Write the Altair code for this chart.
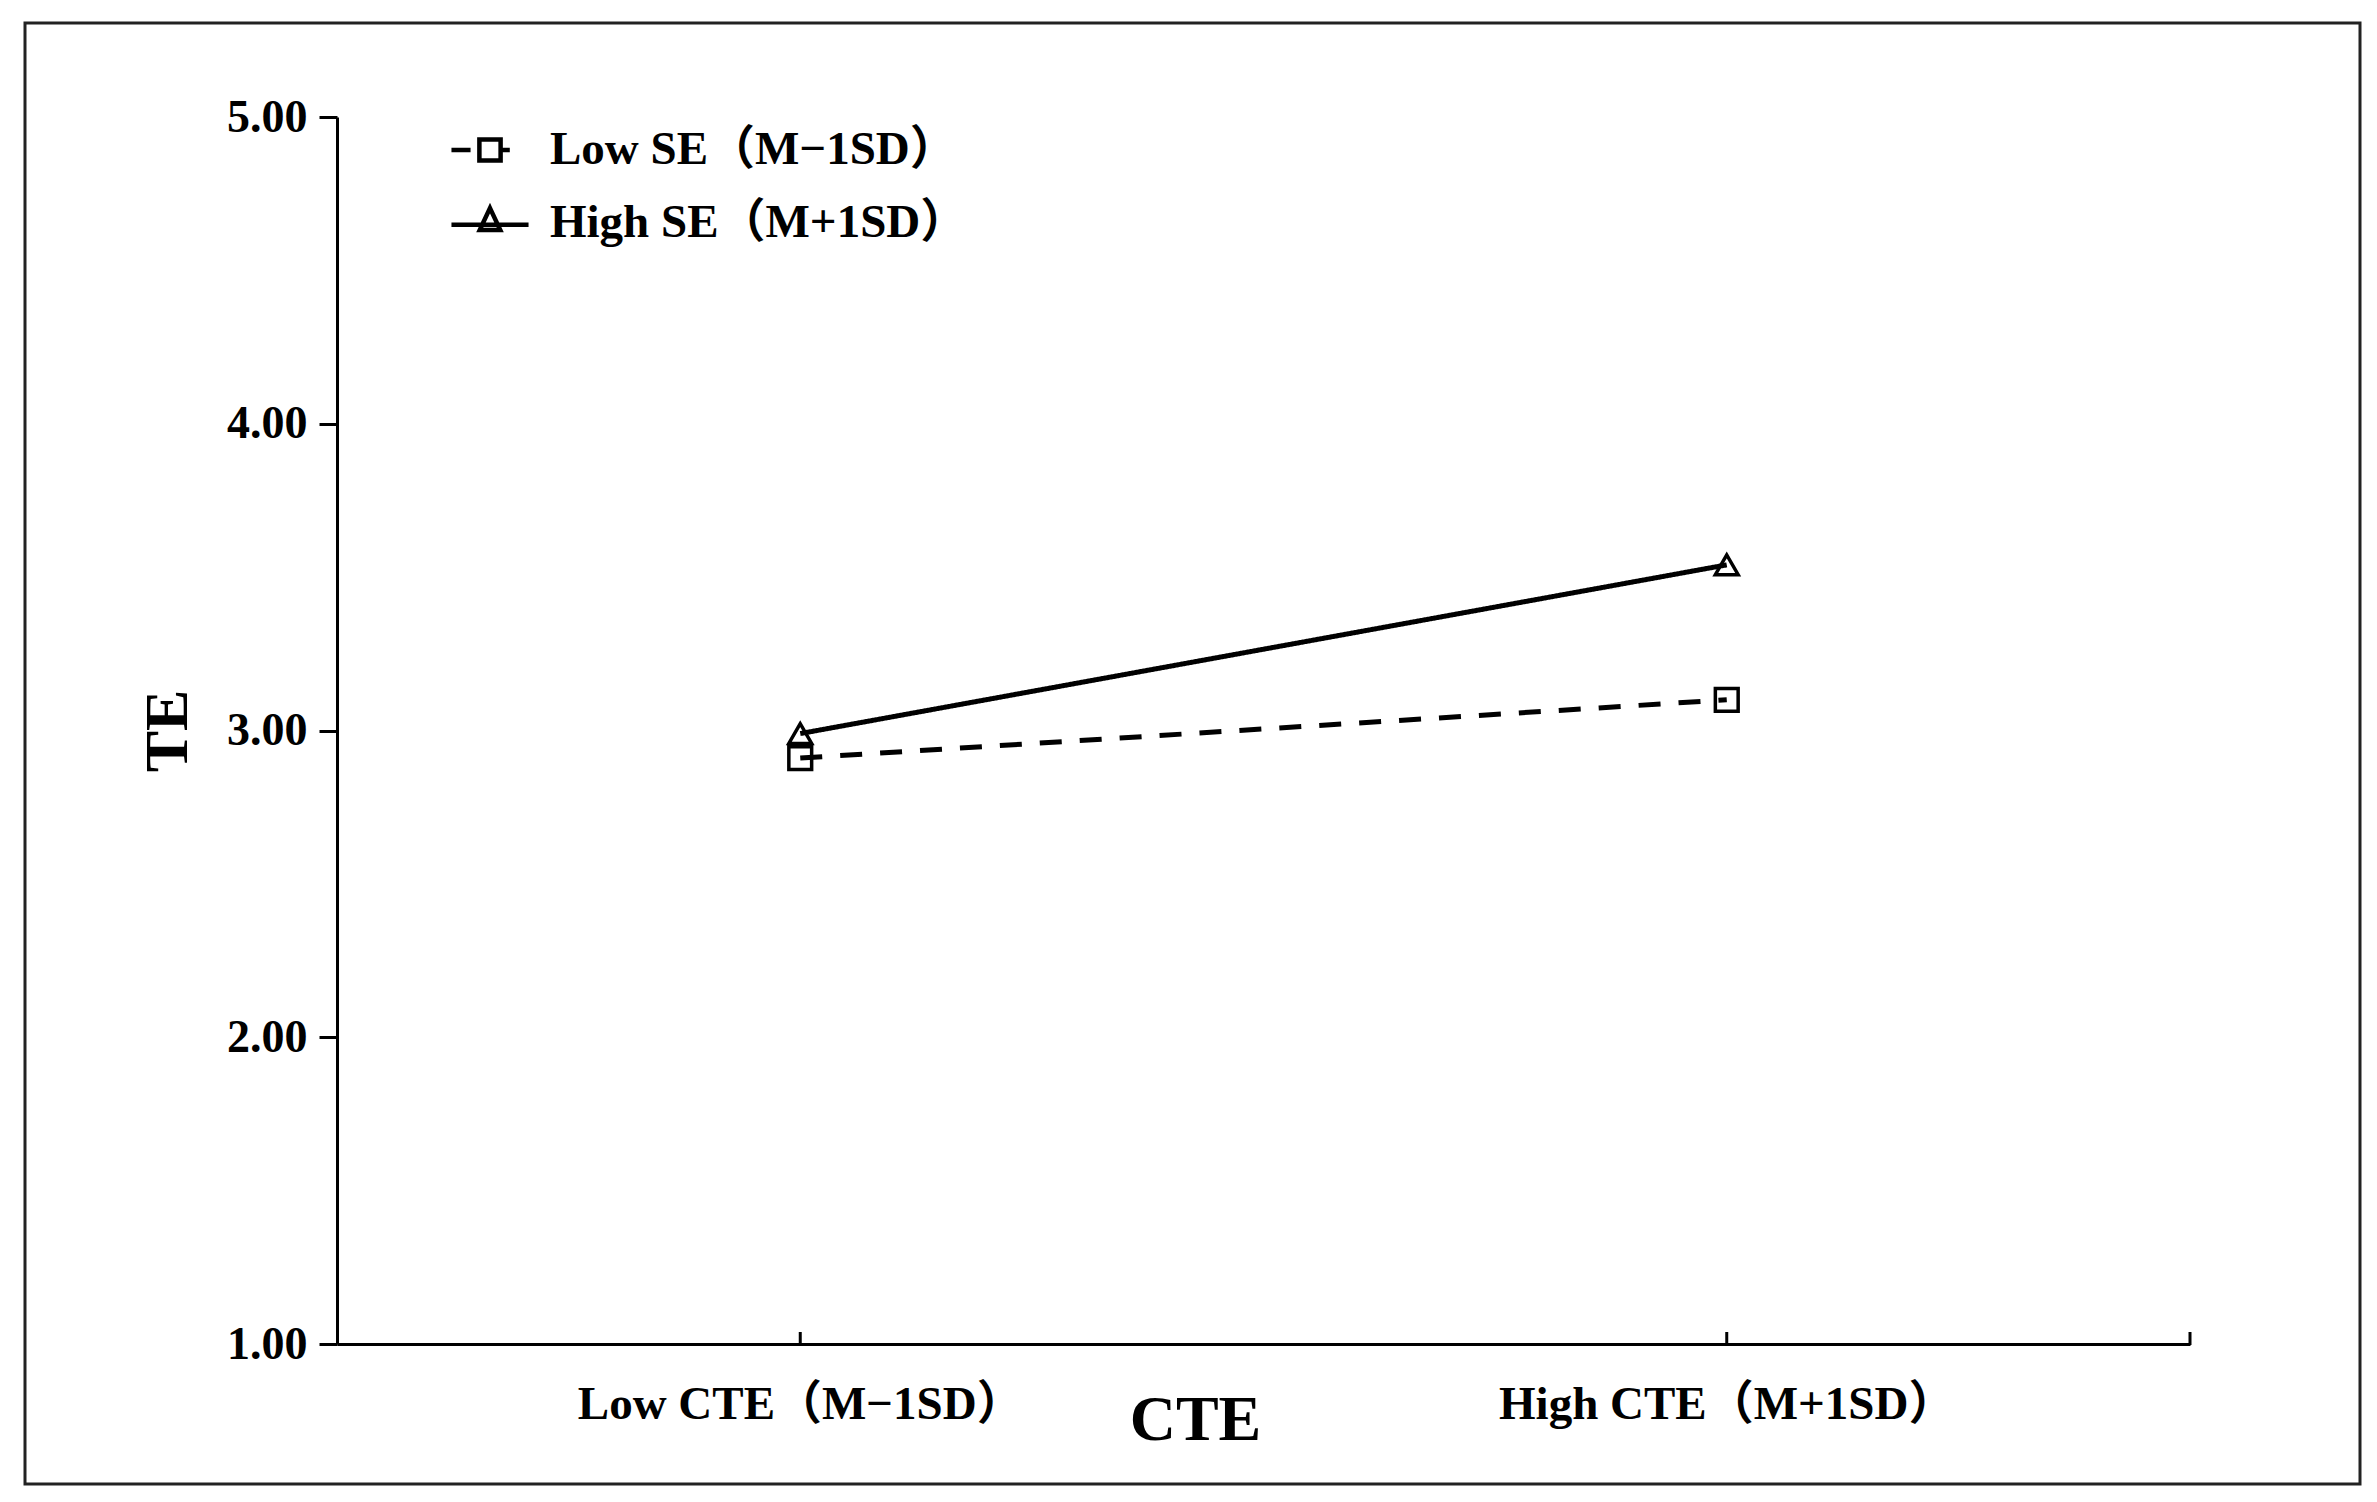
import altair as alt
import pandas as pd

# ---- data ----
cte_levels = ["Low CTE（M−1SD）", "High CTE（M+1SD）"]
se_groups = ["Low SE（M−1SD）", "High SE（M+1SD）"]
low_se_values = [2.91, 3.10]
high_se_values = [2.99, 3.54]
y_ticks = [1, 2, 3, 4, 5]

rows = []
for g, vals in zip(se_groups, [low_se_values, high_se_values]):
    for c, v in zip(cte_levels, vals):
        rows.append({"CTE": c, "TE": v, "SE": g})
df = pd.DataFrame(rows)
ticks_df = pd.DataFrame({"CTE": cte_levels})
one = pd.DataFrame({"a": [0]})

W, H = 1853, 1227
FONT = "Liberation Serif, Noto Sans CJK SC"

x_scale = alt.Scale(type="point", padding=0.5, domain=cte_levels)
y_scale = alt.Scale(domain=[1, 5], nice=False, zero=False)

x_axis = alt.Axis(
    title="CTE", ticks=False, grid=False, labelAngle=0,
    domainColor="black", domainWidth=3,
    labelFont=FONT, labelFontSize=47, labelFontWeight="bold", labelColor="black",
    labelBaseline="alphabetic", labelPadding=74, labelLimit=1000,
    titleFont=FONT, titleFontSize=64, titleFontWeight="bold", titleColor="black",
    titleX=858, titleY=95, titleBaseline="alphabetic", titleAlign="center",
)
y_axis = alt.Axis(
    title="TE", values=y_ticks, format=".2f", grid=False,
    domainColor="black", domainWidth=3, tickColor="black", tickWidth=3, tickSize=18,
    labelFont=FONT, labelFontSize=46, labelFontWeight="bold", labelColor="black",
    labelPadding=12,
    titleFont=FONT, titleFontSize=62, titleFontWeight="bold", titleColor="black",
    titleX=-151, titleY=H / 2, titleBaseline="alphabetic", titleAngle=270,
)

x_enc = alt.X("CTE:N", sort=cte_levels, scale=x_scale, axis=x_axis)
y_enc = alt.Y("TE:Q", scale=y_scale, axis=y_axis)

lines = alt.Chart(df).mark_line(color="black", strokeWidth=5).encode(
    x=x_enc, y=y_enc, detail="SE:N",
    strokeDash=alt.StrokeDash("SE:N", scale=alt.Scale(domain=se_groups, range=[[22, 18], [1, 0]]), legend=None),
)

points = alt.Chart(df).mark_point(filled=False, color="black", strokeWidth=3.5, size=520, opacity=1).encode(
    x=x_enc, y=y_enc,
    shape=alt.Shape("SE:N", scale=alt.Scale(domain=se_groups, range=["square", "triangle-up"]), legend=None),
)

path_low = "M-1.09,0H-0.55M-0.3,-0.3H0.3V0.3H-0.3ZM0.3,0H0.56"
path_high = "M-1.09,0.05H1.09M0,-0.42L0.29,0.2L-0.29,0.2Z"

legend_layer = alt.Chart(df).mark_point(filled=False, color="black", strokeWidth=4, opacity=1).transform_filter(
    "false"
).encode(
    x=x_enc, y=y_enc,
    shape=alt.Shape(
        "SE:N",
        scale=alt.Scale(domain=se_groups, range=[path_low, path_high]),
        legend=alt.Legend(
            title=None, orient="none", legendX=115, legendY=-5, padding=0, rowPadding=12,
            symbolSize=5000, symbolStrokeWidth=4.5, symbolStrokeColor="black",
            symbolFillColor="transparent",
            labelFont=FONT, labelFontSize=47, labelFontWeight="bold", labelColor="black",
            labelOffset=22, labelLimit=1000,
        ),
    ),
)

tick_rules = alt.Chart(ticks_df).mark_rule(color="black", strokeWidth=3).encode(
    x=alt.X("CTE:N", sort=cte_levels, scale=x_scale), y=alt.value(H), y2=alt.value(H - 12)
)
end_tick = alt.Chart(one).mark_rule(color="black", strokeWidth=3).encode(
    x=alt.value(W), y=alt.value(H + 1), y2=alt.value(H - 12)
)

frame = alt.Chart(one).mark_rect(fillOpacity=0, stroke="#222222", strokeWidth=3).encode(
    x=alt.value(-312), x2=alt.value(W + 170), y=alt.value(-94), y2=alt.value(H + 140)
)

chart = alt.layer(frame, lines, points, legend_layer, tick_rules, end_tick).resolve_scale(
    shape="independent", strokeDash="independent"
).resolve_legend(shape="independent").properties(
    width=W, height=H,
    padding={"left": 15, "top": 13, "right": 5, "bottom": 5},
    background="white",
).configure_view(stroke=None)

chart.save("out.html", embed_options={"renderer": "svg", "actions": False})
